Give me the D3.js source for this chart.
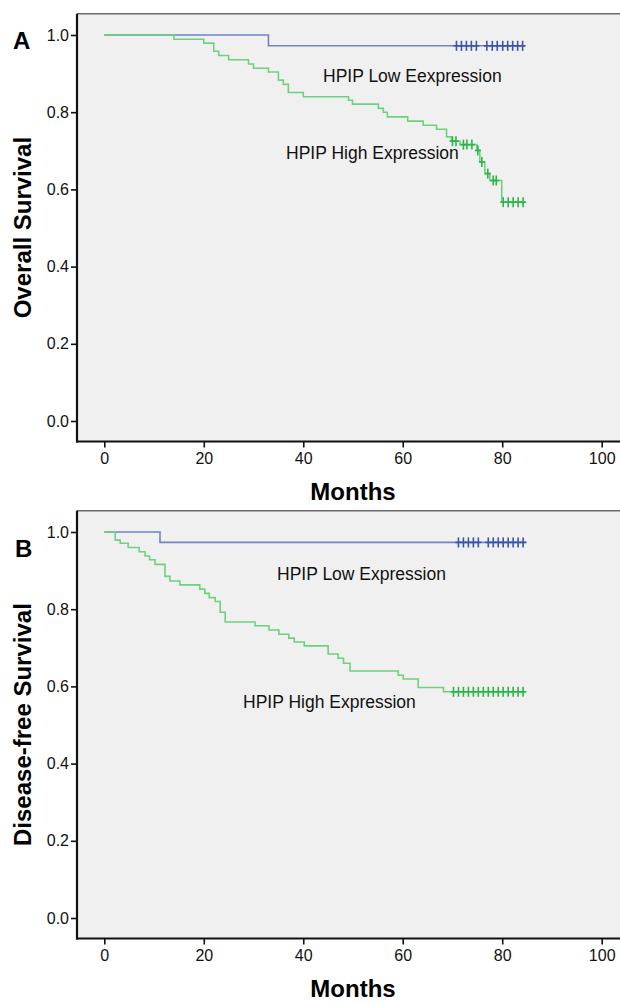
<!DOCTYPE html>
<html>
<head>
<meta charset="utf-8">
<script src="https://cdn.jsdelivr.net/npm/d3@7"></script>
<style>
  body { margin: 0; background: #fff; }
  svg { display: block; font-family: Arial, "Liberation Sans", sans-serif; }
</style>
</head>
<body>
<svg id="chart" width="620" height="1002"></svg>
<script>
// axis ticks
var xTicks = [0, 20, 40, 60, 80, 100];
var yTicks = [0.0, 0.2, 0.4, 0.6, 0.8, 1.0];

// panel A: overall survival, [months, survival] at each event
var osLow = [[0, 1.0], [33, 0.972], [84.5, 0.972]];
var osLowCens = [70.8, 71.8, 72.8, 73.8, 74.8, 76.9, 78.0, 79.0, 80.1, 81.1, 82.1, 83.1, 84.1];
var osHigh = [[0, 1.0], [14, 0.989], [20, 0.979], [22, 0.958], [23, 0.947], [25, 0.936], [29, 0.925],
  [30, 0.914], [33, 0.904], [35, 0.883], [36, 0.872], [37, 0.851], [40, 0.840], [49.1, 0.831],
  [49.9, 0.821], [55.1, 0.810], [56.1, 0.800], [56.9, 0.788], [61, 0.777], [64.1, 0.766],
  [66.8, 0.756], [68.8, 0.736], [69.8, 0.725], [71.5, 0.716], [74.9, 0.701], [75.5, 0.671],
  [76.5, 0.641], [77.5, 0.623], [79.9, 0.567], [84.6, 0.567]];
var osHighCens = [70.0, 70.7, 72.2, 72.9, 73.9, 75.1, 75.9, 77.1, 78.2, 78.8, 80.2, 81.2, 82.2, 83.2, 84.2];

// panel B: disease-free survival
var dfsLow = [[0, 1.0], [11.2, 0.973], [84.9, 0.973]];
var dfsLowCens = [71.2, 72.2, 73.2, 74.2, 75.2, 77.2, 78.2, 79.2, 80.2, 81.2, 82.2, 83.2, 84.2];
var dfsHigh = [[0, 1.0], [2.2, 0.979], [3.2, 0.971], [4.8, 0.960], [7.0, 0.949], [8.2, 0.938],
  [9.1, 0.928], [10.2, 0.916], [12.2, 0.885], [13.2, 0.873], [15.2, 0.863], [19.2, 0.852],
  [20.2, 0.841], [21.1, 0.830], [22.3, 0.820], [23.3, 0.792], [24.3, 0.767], [30.3, 0.757],
  [33.1, 0.746], [35.1, 0.735], [37.1, 0.725], [38.2, 0.715], [40.2, 0.705], [45, 0.684],
  [47, 0.673], [48.1, 0.660], [49.4, 0.640], [59.1, 0.629], [60.1, 0.619], [63.1, 0.597],
  [68.2, 0.586], [84.9, 0.586]];
var dfsHighCens = [70.2, 71.2, 72.2, 73.2, 74.2, 75.2, 76.2, 77.2, 78.2, 79.2, 80.2, 81.2, 82.2, 83.2, 84.2];

var panels = [
  { letter: "A", yTitle: "Overall Survival", dy: 0, letterX: 13, letterY: 49,
    low: osLow, lowCens: osLowCens, high: osHigh, highCens: osHighCens,
    lowLabel: "HPIP Low Eexpression", lowLabelX: 323, lowLabelY: 82,
    highLabel: "HPIP High Expression", highLabelX: 286, highLabelY: 159 },
  { letter: "B", yTitle: "Disease-free Survival", dy: 497, letterX: 15, letterY: 557,
    low: dfsLow, lowCens: dfsLowCens, high: dfsHigh, highCens: dfsHighCens,
    lowLabel: "HPIP Low Expression", lowLabelX: 277, lowLabelY: 580,
    highLabel: "HPIP High Expression", highLabelX: 243, highLabelY: 708 }
];

var svg = d3.select("#chart");
var blue = "#6f83c8", blueDark = "#3b53ad";
var green = "#6fd07f", greenDark = "#2bb548";

var x = d3.scaleLinear().domain([0, 100]).range([104.3, 601.7]);

panels.forEach(function(p) {
  var g = svg.append("g").attr("transform", "translate(0," + p.dy + ")");
  var y = d3.scaleLinear().domain([0, 1]).range([421, 35]);
  var left = 77, top = 13.7, bottom = 441.5, right = 622;

  // plot background + frame
  g.append("rect").attr("x", left).attr("y", top)
    .attr("width", right - left).attr("height", bottom - top).attr("fill", "#f0f0f0");
  g.append("line").attr("x1", left).attr("x2", right).attr("y1", top).attr("y2", top)
    .attr("stroke", "#6a6a6a").attr("stroke-width", 1.5);

  var yAxis = g.append("g").attr("transform", "translate(" + left + ",0)")
    .call(d3.axisLeft(y).tickValues(yTicks).tickFormat(d3.format(".1f")).tickSize(6).tickPadding(2));
  var xAxis = g.append("g").attr("transform", "translate(0," + bottom + ")")
    .call(d3.axisBottom(x).tickValues(xTicks).tickSize(6).tickPadding(5));
  [yAxis, xAxis].forEach(function(a) {
    a.select(".domain").remove();
    a.selectAll(".tick line").attr("stroke", "#111").attr("stroke-width", 1.6);
    a.selectAll(".tick text").attr("fill", "#111").style("font-size", "16px");
  });

  g.append("line").attr("x1", left).attr("x2", left).attr("y1", top).attr("y2", bottom + 1)
    .attr("stroke", "#111").attr("stroke-width", 2.2);
  g.append("line").attr("x1", left - 1).attr("x2", right).attr("y1", bottom).attr("y2", bottom)
    .attr("stroke", "#111").attr("stroke-width", 2.2);

  // titles
  g.append("text").attr("x", 353).attr("y", 500).attr("text-anchor", "middle")
    .style("font-size", "24px").style("font-weight", "bold").attr("fill", "#000").text("Months");
  g.append("text").attr("transform", "translate(31," + ((top + bottom) / 2) + ") rotate(-90)")
    .attr("text-anchor", "middle").style("font-size", "24px").style("font-weight", "bold")
    .attr("fill", "#000").text(p.yTitle);
  svg.append("text").attr("x", p.letterX).attr("y", p.letterY)
    .style("font-size", "24px").style("font-weight", "bold").attr("fill", "#000").text(p.letter);

  // survival curves
  var line = d3.line().x(function(d) { return x(d[0]); }).y(function(d) { return y(d[1]); })
    .curve(d3.curveStepAfter);
  var bis = d3.bisector(function(d) { return d[0]; }).right;
  function drawCurve(data, cens, col, dark) {
    g.append("path").datum(data).attr("d", line).attr("fill", "none")
      .attr("stroke", col).attr("stroke-width", 1.6);
    var marks = g.append("g").selectAll("g").data(cens).join("g")
      .attr("transform", function(t) {
        var s = data[bis(data, t) - 1][1];
        return "translate(" + x(t) + "," + y(s) + ")";
      });
    marks.append("line").attr("y1", -5).attr("y2", 5).attr("stroke", dark).attr("stroke-width", 1.6);
    marks.append("line").attr("x1", -3).attr("x2", 3).attr("stroke", dark).attr("stroke-width", 1.6);
  }
  drawCurve(p.low, p.lowCens, blue, blueDark);
  drawCurve(p.high, p.highCens, green, greenDark);

  // group labels
  svg.append("text").attr("x", p.lowLabelX).attr("y", p.lowLabelY)
    .style("font-size", "17.5px").attr("fill", "#111").text(p.lowLabel);
  svg.append("text").attr("x", p.highLabelX).attr("y", p.highLabelY)
    .style("font-size", "17.5px").attr("fill", "#111").text(p.highLabel);
});
</script>
</body>
</html>
